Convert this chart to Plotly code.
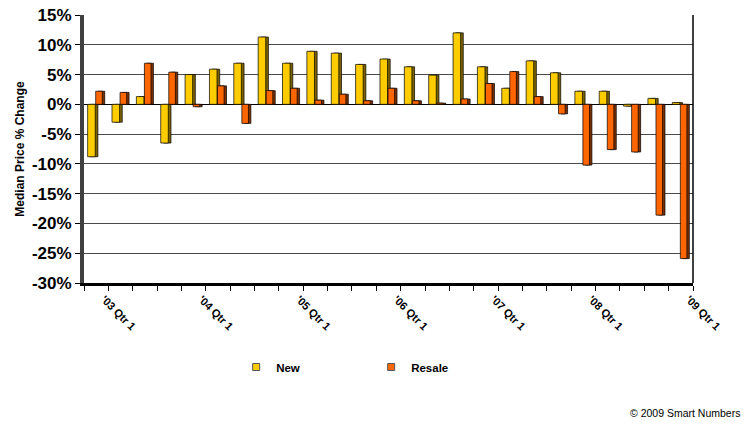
import plotly.graph_objects as go

quarters = ["'03 Qtr 1", "'03 Qtr 2", "'03 Qtr 3", "'03 Qtr 4",
            "'04 Qtr 1", "'04 Qtr 2", "'04 Qtr 3", "'04 Qtr 4",
            "'05 Qtr 1", "'05 Qtr 2", "'05 Qtr 3", "'05 Qtr 4",
            "'06 Qtr 1", "'06 Qtr 2", "'06 Qtr 3", "'06 Qtr 4",
            "'07 Qtr 1", "'07 Qtr 2", "'07 Qtr 3", "'07 Qtr 4",
            "'08 Qtr 1", "'08 Qtr 2", "'08 Qtr 3", "'08 Qtr 4",
            "'09 Qtr 1"]
new_vals = [-8.8, -3.0, 1.3, -6.5, 5.0, 5.9, 6.9, 11.3,
            6.9, 8.9, 8.6, 6.7, 7.6, 6.3, 4.9, 12.0,
            6.3, 2.7, 7.3, 5.3, 2.2, 2.2, -0.3, 1.0, 0.3]
resale_vals = [2.2, 2.0, 6.9, 5.4, -0.4, 3.1, -3.2, 2.3,
               2.7, 0.7, 1.7, 0.6, 2.7, 0.6, 0.2, 0.9,
               3.5, 5.5, 1.3, -1.6, -10.2, -7.6, -8.0, -18.6, -25.9]
y_ticks = [15, 10, 5, 0, -5, -10, -15, -20, -25, -30]
label_every = 4

FONT = "Arial, Liberation Sans, sans-serif"
NEW_C, NEW_SIDE = "#FFCC00", "#7A6200"
RES_C, RES_SIDE = "#FF6600", "#7A3000"

x = list(range(len(quarters)))
tickvals = x[::label_every]
ticktext = quarters[::label_every]

fig = go.Figure()
line = dict(color="#000000", width=0.7)
fig.add_trace(go.Bar(x=x, y=new_vals, offset=-0.24, width=0.31,
                     marker=dict(color=NEW_SIDE, line=line), showlegend=False, hoverinfo="skip"))
fig.add_trace(go.Bar(x=x, y=new_vals, offset=-0.35, width=0.31, name="New",
                     marker=dict(color=NEW_C, line=line), showlegend=False))
fig.add_trace(go.Bar(x=x, y=resale_vals, offset=0.08, width=0.27,
                     marker=dict(color=RES_SIDE, line=line), showlegend=False, hoverinfo="skip"))
fig.add_trace(go.Bar(x=x, y=resale_vals, offset=-0.02, width=0.27, name="Resale",
                     marker=dict(color=RES_C, line=line), showlegend=False))

# legend entries (small square swatches)
for nm, c in [("New", NEW_C), ("Resale", RES_C)]:
    fig.add_trace(go.Scatter(x=[None], y=[None], mode="markers", name=nm,
                             marker=dict(symbol="square", size=7, color=c,
                                         line=dict(color="#555555", width=1))))

fig.update_layout(
    width=745, height=439,
    margin=dict(l=84, r=52, t=15, b=156, autoexpand=False),
    paper_bgcolor="white", plot_bgcolor="white",
    barmode="overlay",
    font=dict(family=FONT, color="#000000"),
    legend=dict(orientation="h", xref="container", yref="container",
                x=0.317, xanchor="left", y=0.164, yanchor="middle",
                entrywidth=90, entrywidthmode="pixels",
                font=dict(size=11.5, family=FONT, weight="bold"),
                bgcolor="rgba(0,0,0,0)"),
    annotations=[dict(text="© 2009 Smart Numbers", xref="paper", yref="paper",
                      x=(742 - 84) / 609, y=(283 - 413) / 268.3,
                      xanchor="right", yanchor="middle", showarrow=False,
                      font=dict(size=10.5, family=FONT, color="#000000"))],
    shapes=[dict(type="line", xref="paper", yref="paper", x0=1, x1=1, y0=0, y1=1,
                 line=dict(color="#000000", width=1.5))],
)

fig.update_xaxes(
    automargin=False,
    range=[-0.5, len(quarters) - 0.5],
    tickmode="array", tickvals=tickvals, ticktext=ticktext,
    tickangle=45, ticks="",
    ticklabelshift=8, ticklabelstandoff=3,
    tickfont=dict(size=11, family=FONT, weight="bold"),
    showgrid=False, zeroline=False,
    showline=True, linecolor="#000000", linewidth=2.5,
    minor=dict(ticks="outside", tick0=0.5, dtick=1, ticklen=5,
               tickcolor="#000000", tickwidth=1, showgrid=False),
)
fig.update_yaxes(
    automargin=False,
    range=[-30, 15], tickmode="array", tickvals=y_ticks,
    ticktext=[f"{v}%" for v in y_ticks],
    ticks="outside", ticklen=5, tickcolor="#000000",
    tickfont=dict(size=17, family=FONT, weight="bold"),
    showgrid=True, gridcolor="#4a4a4a", gridwidth=1.2,
    zeroline=True, zerolinecolor="#000000", zerolinewidth=1.2,
    showline=True, linecolor="#404040", linewidth=4,
    title=dict(text="Median Price % Change", standoff=6,
               font=dict(size=12, family=FONT, weight="bold")),
)

fig.write_html("out.html", config={"displayModeBar": False},
               post_script="document.body.style.margin='0';")
